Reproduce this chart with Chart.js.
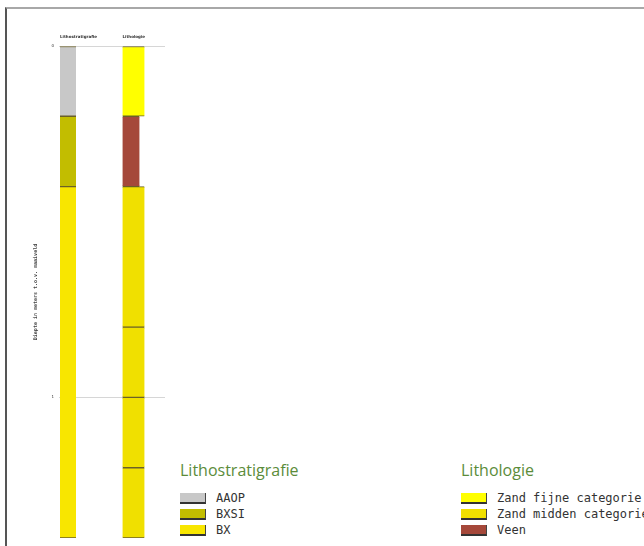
<!DOCTYPE html>
<html>
<head>
<meta charset="utf-8">
<script src="https://cdn.jsdelivr.net/npm/chart.js@4"></script>
<style>
    body { margin: 0; background: #fff; width: 644px; height: 546px; overflow: hidden; position: relative; }
    .frame { position: absolute; left: 5px; top: 7px; width: 700px; height: 600px;
             border-top: 2px solid #a8a8a8; border-left: 2px solid #555; }
    #boring { position: absolute; left: 0; top: 0; }
    .legend { position: absolute; top: 459px; }
    .legend h3 { margin: 0 0 9px 0; font: 16px/22px 'Open Sans', sans-serif; color: #5b8c3a; font-weight: normal; white-space: nowrap; }
    .legend .item { height: 16px; display: flex; align-items: center; white-space: nowrap;
                    font: 12px 'DejaVu Sans Mono', monospace; color: #333; }
    .legend .swatch { width: 25px; height: 9px; border-right: 1px solid #444; border-bottom: 2px solid #333; margin-right: 10px; }
</style>
</head>
<body>
<div class="frame"></div>
<canvas id="boring" width="175" height="546"></canvas>
<div class="legend" id="legendStrat" style="left: 180px"></div>
<div class="legend" id="legendLitho" style="left: 461px"></div>
<script>
// kolommen van de boorbeschrijving
const columns = ['Lithostratigrafie', 'Lithologie']
const yTicks = [0, 1]

// lithostratigrafie (diepte in m)
const stratTops = [0, 0.2, 0.4]
const stratBottoms = [0.2, 0.4, 1.4]
const stratUnits = ['AAOP', 'BXSI', 'BX']

// lithologie (diepte in m)
const lithoTops = [0, 0.2, 0.4, 0.8, 1.0, 1.2]
const lithoBottoms = [0.2, 0.4, 0.8, 1.0, 1.2, 1.4]
const lithoClasses = ['Zand fijne categorie', 'Veen', 'Zand midden categorie',
    'Zand midden categorie', 'Zand midden categorie', 'Zand midden categorie']

const stratLegend = ['AAOP', 'BXSI', 'BX']
const lithoLegend = ['Zand fijne categorie', 'Zand midden categorie', 'Veen']

// opmaak per klasse
const colors = {
    'AAOP': '#c8c8c8',
    'BXSI': '#c2bd00',
    'BX': '#f8e600',
    'Zand fijne categorie': '#ffff00',
    'Zand midden categorie': '#f0e000',
    'Veen': '#a5483a'
}
const widths = {
    'AAOP': 16, 'BXSI': 16, 'BX': 16,
    'Zand fijne categorie': 22, 'Zand midden categorie': 22, 'Veen': 17
}

const makeDatasets = (col, tops, bottoms, names, legendNames) =>
    legendNames.map(name => ({
        label: name,
        data: names.map((n, i) => n === name ? {x: col, y: [tops[i], bottoms[i]]} : null).filter(d => d),
        backgroundColor: colors[name],
        borderColor: '#6b6128',
        borderWidth: {top: 1, bottom: 1, left: 0, right: 0},
        borderSkipped: false,
        barThickness: widths[name],
        grouped: false
    }))

const datasets = [
    ...makeDatasets(0, stratTops, stratBottoms, stratUnits, stratLegend),
    ...makeDatasets(1, lithoTops, lithoBottoms, lithoClasses, lithoLegend)
]

// lagen links uitlijnen op de kolom (x-waarde = linkerkant kolom)
const leftAlign = {
    id: 'leftAlign',
    afterDatasetsUpdate(chart) {
        const xs = chart.scales.x
        chart.data.datasets.forEach((ds, i) => {
            chart.getDatasetMeta(i).data.forEach((bar, j) => {
                bar.x = xs.getPixelForValue(ds.data[j].x) + bar.width / 2
            })
        })
    }
}

new Chart(document.getElementById('boring'), {
    type: 'bar',
    data: { datasets },
    plugins: [leftAlign],
    options: {
        responsive: false,
        animation: false,
        devicePixelRatio: 1,
        layout: { padding: { left: 0, right: 10, top: 0, bottom: 8 } },
        plugins: { legend: { display: false }, tooltip: { enabled: false } },
        scales: {
            x: {
                type: 'linear',
                position: 'top',
                offset: false,
                min: -0.016,
                max: 1.68,
                afterBuildTicks: s => { s.ticks = columns.map((c, i) => ({value: i})) },
                afterFit: s => { s.height = 46 },
                ticks: {
                    align: 'start',
                    autoSkip: false,
                    maxRotation: 0,
                    padding: 7,
                    color: '#333',
                    font: { family: 'DejaVu Sans', size: 4, weight: 'bold' },
                    callback: v => columns[v]
                },
                grid: { display: false, drawTicks: false },
                border: { display: false }
            },
            y: {
                min: 0,
                max: 1.4,
                reverse: true,
                afterBuildTicks: s => { s.ticks = yTicks.map(v => ({value: v})) },
                afterFit: s => { s.width = 59 },
                ticks: {
                    padding: 5,
                    color: '#333',
                    font: { family: 'DejaVu Sans', size: 4 }
                },
                grid: { color: '#d6d6d6', drawTicks: false },
                border: { display: false },
                title: {
                    display: true,
                    text: 'Diepte in meters t.o.v. maaiveld',
                    color: '#444',
                    font: { family: 'DejaVu Sans Mono', size: 5, weight: 'bold' },
                    padding: { top: 33, bottom: 0 }
                }
            }
        }
    }
})

const fillLegend = (el, title, names) => {
    el.innerHTML = '<h3>' + title + '</h3>' + names.map(n =>
        '<div class="item"><span class="swatch" style="background:' + colors[n] + '"></span>' + n + '</div>'
    ).join('')
}
fillLegend(document.getElementById('legendStrat'), columns[0], stratLegend)
fillLegend(document.getElementById('legendLitho'), columns[1], lithoLegend)
</script>
</body>
</html>
